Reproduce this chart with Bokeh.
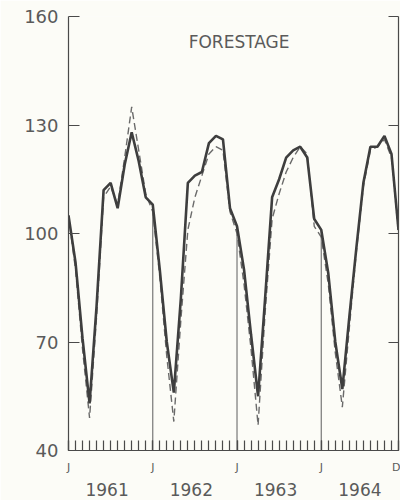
from bokeh.plotting import figure
from bokeh.models import Range1d, LinearAxis, FixedTicker, Label, ColumnDataSource
from bokeh.embed import file_html
from bokeh.resources import INLINE

# ---- data ----
months = list(range(48))  # Jan 1961 .. Dec 1964
observed = [105, 92, 71, 53, 80, 112, 114, 107, 119, 128, 120, 110,
            108, 90, 70, 56, 82, 114, 116, 117, 125, 127, 126, 107,
            102, 90, 72, 55, 82, 110, 115, 121, 123, 124, 121, 104,
            101, 89, 70, 57, 77, 96, 114, 124, 124, 127, 122, 101]
estimated = [105, 90, 68, 49, 77, 110, 113, 108, 121, 135, 123, 111,
             106, 88, 66, 48, 76, 101, 110, 116, 122, 124, 123, 106,
             100, 86, 68, 47, 78, 104, 111, 117, 121, 124, 122, 102,
             99, 86, 67, 52, 74, 95, 113, 123, 124, 126, 121, 100]
y_ticks = [40, 70, 100, 130, 160]
month_ticks = [0, 12, 24, 36, 47]
month_labels = ["J", "J", "J", "J", "D"]
year_ticks = [5.5, 17.5, 29.5, 41.5]
year_labels = ["1961", "1962", "1963", "1964"]
year_starts = [12, 24, 36]
title_text = "FORESTAGE"

INK = "#4a4a4a"
TXT = "#5a5a5a"
FONT = "DejaVu Sans"

p = figure(width=400, height=500, output_backend="svg", toolbar_location=None,
           x_range=Range1d(0, 47), y_range=Range1d(40, 160),
           x_axis_location=None, y_axis_location=None,
           min_border_left=68, min_border_right=2, min_border_top=16, min_border_bottom=50)
p.background_fill_color = "#fcfcf7"
p.border_fill_color = "#fcfcf7"
p.outline_line_color = None
p.xgrid.visible = False
p.ygrid.visible = False

# left axis
la = LinearAxis(ticker=FixedTicker(ticks=y_ticks, minor_ticks=[]))
la.axis_line_color = INK
la.axis_line_width = 1.2
la.major_tick_in = 11
la.major_tick_out = 0
la.major_tick_line_color = INK
la.major_tick_line_width = 1.2
la.minor_tick_line_color = None
la.major_label_text_font = FONT
la.major_label_text_font_size = "18px"
la.major_label_text_color = TXT
la.major_label_standoff = 10
p.add_layout(la, "left")

# right axis (ticks only)
ra = LinearAxis(ticker=FixedTicker(ticks=y_ticks, minor_ticks=[]))
ra.axis_line_color = INK
ra.axis_line_width = 1.2
ra.major_tick_in = 10
ra.major_tick_out = 0
ra.major_tick_line_color = INK
ra.major_tick_line_width = 1.2
ra.minor_tick_line_color = None
ra.major_label_overrides = {t: "" for t in y_ticks}
ra.major_label_standoff = 0
p.add_layout(ra, "right")

# bottom axis with monthly ticks
ba = LinearAxis(ticker=FixedTicker(ticks=month_ticks, minor_ticks=months))
ba.axis_line_color = INK
ba.axis_line_width = 1.2
ba.major_tick_in = 10
ba.major_tick_out = 0
ba.minor_tick_in = 10
ba.minor_tick_out = 0
ba.major_tick_line_color = INK
ba.minor_tick_line_color = INK
ba.major_tick_line_width = 1.2
ba.minor_tick_line_width = 1.2
ba.major_label_overrides = {t: l for t, l in zip(month_ticks, month_labels)}
ba.major_label_text_font = FONT
ba.major_label_text_font_size = "11px"
ba.major_label_text_color = TXT
ba.major_label_standoff = 10
p.add_layout(ba, "below")

# year labels
ya = LinearAxis(ticker=FixedTicker(ticks=year_ticks, minor_ticks=[]))
ya.axis_line_color = None
ya.major_tick_line_color = None
ya.minor_tick_line_color = None
ya.major_label_overrides = {t: l for t, l in zip(year_ticks, year_labels)}
ya.major_label_text_font = FONT
ya.major_label_text_font_size = "17px"
ya.major_label_text_color = TXT
ya.major_label_standoff = 0
p.add_layout(ya, "below")

# year boundary lines
p.segment(x0=year_starts, y0=[y_ticks[0]] * len(year_starts),
          x1=year_starts, y1=[observed[i] for i in year_starts],
          line_color="#777777", line_width=1.2)

src = ColumnDataSource(dict(m=months, obs=observed, est=estimated))
p.line("m", "est", source=src, line_color="#6a6a6a", line_width=1.4, line_dash="7 4")
p.line("m", "obs", source=src, line_color="#3e3e3e", line_width=2.6)

p.add_layout(Label(x=24.3, y=153, text=title_text, text_font=FONT, text_font_size="17px",
                   text_color=TXT, text_align="center", text_baseline="middle"))

open("out.html", "w").write(file_html(p, INLINE))
